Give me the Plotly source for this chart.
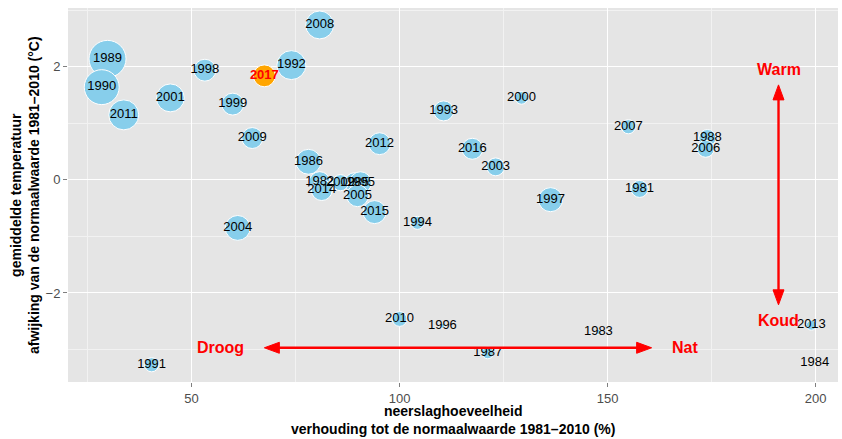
import plotly.graph_objects as go

# ---- data ----
jaren = [1981, 1982, 1983, 1984, 1985, 1986, 1987, 1988, 1989, 1990,
         1991, 1992, 1993, 1994, 1995, 1996, 1997, 1998, 1999, 2000,
         2001, 2002, 2003, 2004, 2005, 2006, 2007, 2008, 2009, 2010,
         2011, 2012, 2013, 2014, 2015, 2016, 2017]
neerslag = [157.7, 80.8, 147.8, 199.8, 89.2, 78.1, 121.2, 174.0, 29.8, 28.4,
            40.4, 74.0, 110.6, 104.3, 90.6, 110.3, 136.3, 53.2, 59.9, 129.3,
            44.9, 85.8, 123.1, 61.1, 89.9, 173.6, 155.0, 80.8, 64.6, 100.0,
            33.7, 95.2, 199.0, 81.3, 94.0, 117.5, 67.5]
temperatuur = [-0.16, -0.04, -2.69, -3.24, -0.05, 0.32, -3.06, 0.74, 2.14, 1.64,
               -3.27, 2.03, 1.22, -0.76, -0.05, -2.58, -0.35, 1.94, 1.34, 1.45,
               1.45, -0.05, 0.23, -0.85, -0.28, 0.55, 0.94, 2.74, 0.74, -2.46,
               1.15, 0.64, -2.57, -0.18, -0.57, 0.55, 1.84]
zon = [29, 44, 2.5, 0.3, 40, 62, 14, 29, 137, 122,
       20, 84, 40, 17, 48, 2.5, 58, 48, 48, 16,
       78, 26, 32, 62, 48, 29, 20, 78, 44, 22,
       90, 48, 10, 44, 53, 44, 48]

huidig_jaar = 2017

x_ticks = [50, 100, 150, 200]
y_ticks = [-2, 0, 2]
y_ticklabels = ["\u22122", "0", "2"]

x_titel = "neerslaghoeveelheid<br>verhouding tot de normaalwaarde 1981\u20132010 (%)"
y_titel = "gemiddelde temperatuur<br>afwijking van de normaalwaarde 1981\u20132010 (\u00b0C)"

# arrows (data coordinates of tips) and their labels
pijl_h = dict(x0=67.5, x1=160.6, y=-2.97)
pijl_v = dict(x=191.1, y0=-2.21, y1=1.68)
pijl_labels = [("Droog", 57.0, -2.97), ("Nat", 168.5, -2.97),
               ("Warm", 191.3, 1.95), ("Koud", 191.0, -2.48)]

x_range = [20.3, 205.4]
y_range = [-3.575, 3.04]

# ---- figure ----
FONT = "Liberation Sans, Arial, Helvetica, sans-serif"
idx_o = [i for i, j in enumerate(jaren) if j != huidig_jaar]
idx_h = [i for i, j in enumerate(jaren) if j == huidig_jaar]

fig = go.Figure()
fig.add_trace(go.Scatter(
    x=[neerslag[i] for i in idx_o], y=[temperatuur[i] for i in idx_o],
    mode="markers",
    marker=dict(size=[zon[i] for i in idx_o], sizemode="area", sizeref=0.2,
                color="#87CEEB", opacity=1, line=dict(color="white", width=1)),
    hoverinfo="skip", showlegend=False))
fig.add_trace(go.Scatter(
    x=[neerslag[i] for i in idx_h], y=[temperatuur[i] for i in idx_h],
    mode="markers",
    marker=dict(size=[zon[i] for i in idx_h], sizemode="area", sizeref=0.2,
                color="#FFA500", opacity=1, line=dict(color="white", width=1)),
    hoverinfo="skip", showlegend=False))
fig.add_trace(go.Scatter(
    x=[neerslag[i] for i in idx_o], y=[temperatuur[i] for i in idx_o],
    mode="text", text=[str(jaren[i]) for i in idx_o],
    textposition="middle center",
    textfont=dict(family=FONT, size=13, color="black"),
    hoverinfo="skip", showlegend=False))
fig.add_trace(go.Scatter(
    x=[neerslag[i] for i in idx_h], y=[temperatuur[i] for i in idx_h],
    mode="text", text=["<b>%d</b>" % jaren[i] for i in idx_h],
    textposition="middle center",
    textfont=dict(family=FONT, size=13, color="red"),
    hoverinfo="skip", showlegend=False))

# arrows drawn as line + filled heads (head sizes in pixels converted to data units)
W, H = 842, 439
ml, mr, mt, mb = 68, 4, 8, 57
px_x = (W - ml - mr) / (x_range[1] - x_range[0])
px_y = (H - mt - mb) / (y_range[1] - y_range[0])
head_len, head_half = 15, 5.5
red = "#FF0000"
shapes = []
# horizontal
hl = head_len / px_x
hw = head_half / px_y
y = pijl_h["y"]
shapes.append(dict(type="line", xref="x", yref="y", x0=pijl_h["x0"] + hl * 0.8,
                   x1=pijl_h["x1"] - hl * 0.8, y0=y, y1=y,
                   line=dict(color=red, width=2.4)))
for tip, d in ((pijl_h["x0"], 1), (pijl_h["x1"], -1)):
    shapes.append(dict(type="path", xref="x", yref="y",
                       path=f"M{tip},{y} L{tip + d*hl},{y + hw} L{tip + d*hl},{y - hw} Z",
                       fillcolor=red, line=dict(color=red, width=1)))
# vertical
vl = head_len / px_y
vw = head_half / px_x
x = pijl_v["x"]
shapes.append(dict(type="line", xref="x", yref="y", x0=x, x1=x,
                   y0=pijl_v["y0"] + vl * 0.8, y1=pijl_v["y1"] - vl * 0.8,
                   line=dict(color=red, width=2.4)))
for tip, d in ((pijl_v["y0"], 1), (pijl_v["y1"], -1)):
    shapes.append(dict(type="path", xref="x", yref="y",
                       path=f"M{x},{tip} L{x + vw},{tip + d*vl} L{x - vw},{tip + d*vl} Z",
                       fillcolor=red, line=dict(color=red, width=1)))

annotations = []
for txt, ax_, ay_ in pijl_labels:
    annotations.append(dict(x=ax_, y=ay_, xref="x", yref="y", text=f"<b>{txt}</b>",
                            showarrow=False, xanchor="center", yanchor="middle",
                            font=dict(family=FONT, size=16, color=red)))
annotations.append(dict(x=0.5, y=0, xref="paper", yref="paper", text=f"<b>{x_titel}</b>",
                        showarrow=False, xanchor="center", yanchor="top", yshift=-19,
                        font=dict(family=FONT, size=14, color="black")))
annotations.append(dict(x=0, y=0.5, xref="paper", yref="paper", text=f"<b>{y_titel}</b>",
                        showarrow=False, xanchor="center", yanchor="middle", xshift=-43,
                        textangle=-90,
                        font=dict(family=FONT, size=14, color="black")))

fig.update_layout(
    width=W, height=H,
    margin=dict(l=ml, r=mr, t=mt, b=mb),
    paper_bgcolor="white", plot_bgcolor="#E5E5E5",
    shapes=shapes, annotations=annotations,
    font=dict(family=FONT),
    xaxis=dict(range=x_range, tickvals=x_ticks, ticktext=[str(v) for v in x_ticks],
               showgrid=True, gridcolor="white", gridwidth=1.2, zeroline=False,
               ticks="outside", ticklen=4, tickcolor="#7F7F7F", tickwidth=1,
               tickfont=dict(family=FONT, size=13, color="#4D4D4D"),
               minor=dict(tickvals=[25, 75, 125, 175], showgrid=True,
                          gridcolor="#F2F2F2", gridwidth=0.6, ticks=""),
               showline=False, fixedrange=True),
    yaxis=dict(range=y_range, tickvals=y_ticks, ticktext=y_ticklabels,
               showgrid=True, gridcolor="white", gridwidth=1.2, zeroline=False,
               ticks="outside", ticklen=4, tickcolor="#7F7F7F", tickwidth=1,
               tickfont=dict(family=FONT, size=13, color="#4D4D4D"),
               minor=dict(tickvals=[-3, -1, 1, 3], showgrid=True,
                          gridcolor="#F2F2F2", gridwidth=0.6, ticks=""),
               showline=False, fixedrange=True),
)

fig.write_html("out.html", config={"displayModeBar": False},
               post_script="document.body.style.margin='0';document.body.style.padding='0';")
